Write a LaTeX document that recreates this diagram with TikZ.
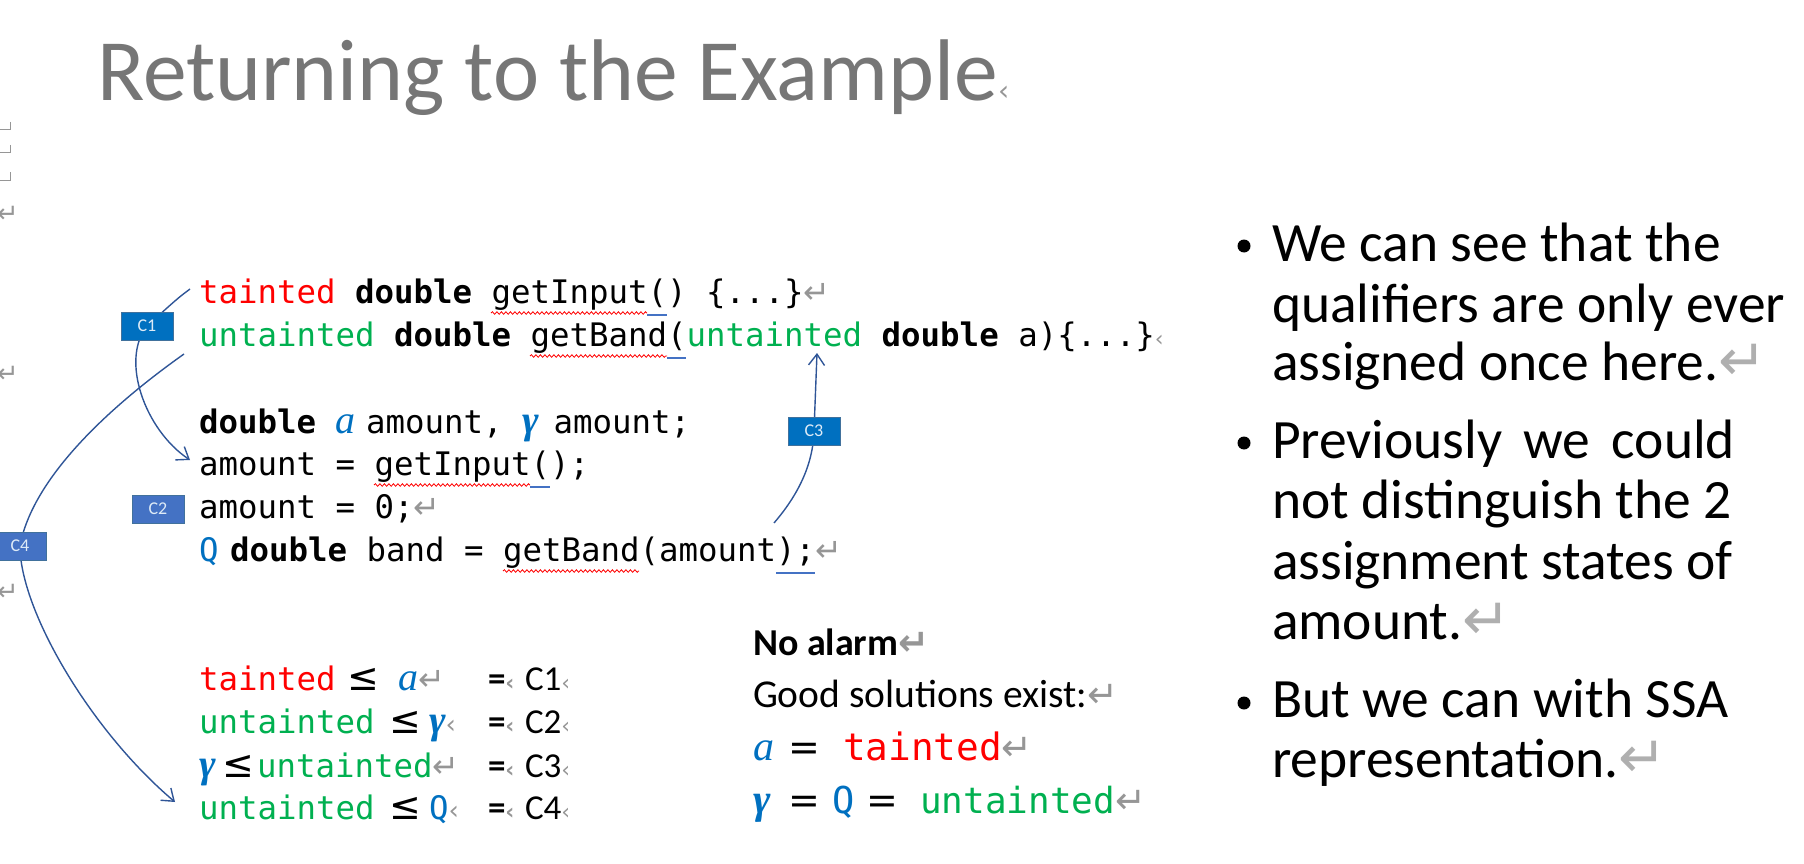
\documentclass[tikz,border=0pt]{standalone}
\usepackage{fontspec}
\usetikzlibrary{arrows.meta,decorations.pathmorphing,backgrounds}
\setmainfont{Carlito}
\newfontfamily\codefont{DejaVu Sans Mono}
\newfontfamily\symfont{DejaVu Sans}
\newfontfamily\varfont{Liberation Serif}

\definecolor{taint}{RGB}{255,0,0}
\definecolor{untaint}{RGB}{0,176,80}
\definecolor{qual}{RGB}{0,112,192}
\definecolor{fmark}{RGB}{150,150,150}
\definecolor{fmarklight}{RGB}{175,175,175}
\definecolor{wire}{RGB}{47,85,151}
\definecolor{boxA}{RGB}{0,112,192}
\definecolor{boxB}{RGB}{68,114,196}
\definecolor{boxedge}{RGB}{65,113,156}
\definecolor{boxtext}{RGB}{222,235,247}
\definecolor{titlegray}{RGB}{118,118,118}
\definecolor{gramblue}{RGB}{68,114,196}

% sizes, variables and editing marks
\newcommand\codesz{\fontsize{32.4}{40}\selectfont}
\newcommand\bulletsz{\fontsize{55.5}{60}\selectfont}
\newcommand\retmark[1][32]{\textcolor{fmark}{\symfont\fontsize{#1}{#1}\selectfont ↵}}
\newcommand\bigretmark{\textcolor{fmarklight}{\symfont\fontsize{58}{58}\selectfont ↵}}
\newcommand\cellmark[1][22]{\textcolor{fmark}{\symfont\fontsize{#1}{#1}\selectfont ‹}}
\newcommand\vara[1][40]{\textcolor{qual}{\varfont\itshape\fontsize{#1}{#1}\selectfont a}}
\newcommand\varg[1][40]{\textcolor{qual}{\varfont\bfseries\itshape\fontsize{#1}{#1}\selectfont γ}}
\newcommand\leqsym{{\symfont\fontsize{38}{38}\selectfont ≤}}
\newcommand\eqsym{{\symfont\fontsize{38}{38}\selectfont =}}

\begin{document}
\begin{tikzpicture}[x=1pt,y=-1pt,
  txt/.style={anchor=base west, inner sep=0pt, outer sep=0pt},
  cbox/.style={draw=boxedge, line width=1pt, minimum width=52pt, minimum height=28pt,
    inner sep=0pt, text=boxtext, font=\fontsize{18}{18}\selectfont},
  wirecon/.style={draw=wire, line width=1.4pt},
  tipped/.style={-{Straight Barb[length=11pt,width=16pt,line width=1.4pt]}},
  spell/.style={draw=taint, line width=0.8pt, decorate,
    decoration={snake, amplitude=1.3pt, segment length=4.5pt}},
  gram/.style={draw=gramblue, line width=1.2pt},
  edgemark/.style={draw=fmark, line width=1pt},
  dot/.style={circle, fill=black, inner sep=0pt, minimum size=13pt}]

\useasboundingbox (0,0) rectangle (1804,864);

% title
\node[txt] (title) at (97,101)
  {\fontsize{87.5}{90}\selectfont\textcolor{titlegray}{Returning to the Example}\cellmark[28]};

% formatting marks along the left edge
\draw[edgemark] (10,122) -- (10,130) -- (0,130);
\draw[edgemark] (10,145) -- (10,153) -- (0,153);
\draw[edgemark] (10,172) -- (10,180) -- (0,180);
\node[txt] (lm1) at (-3,222) {\retmark[26]};
\node[txt] (lm2) at (-3,382) {\retmark[26]};
\node[txt] (lm3) at (-3,600) {\retmark[26]};

% code listing
\node[txt] (l1) at (199,303) {\codefont\codesz\textcolor{taint}{tainted} \textbf{double} getInput() \{...\}\retmark};
\node[txt] (l2) at (199,346) {\codefont\codesz\textcolor{untaint}{untainted} \textbf{double} getBand(\textcolor{untaint}{untainted} \textbf{double} a)\{...\}\cellmark};
\node[txt] (l4) at (199,433) {\codefont\codesz\textbf{double} \makebox[30.5pt][l]{\vara}amount, \makebox[31.6pt][l]{\varg}amount;};
\node[txt] (l5) at (199,475) {\codefont\codesz amount = getInput();};
\node[txt] (l6) at (199,518) {\codefont\codesz amount = 0;\retmark};
\node[txt] (l7) at (199,561) {\codefont\codesz\makebox[31pt][l]{\textcolor{qual}{Q}}\textbf{double} band = getBand(amount);\retmark};

% proofing underlines
\draw[spell] (491,313) -- (647,313);
\draw[gram] (647,315) -- (667,315);
\draw[spell] (530,356) -- (667,356);
\draw[gram] (667,358) -- (686,358);
\draw[spell] (374,485) -- (530,485);
\draw[gram] (530,487) -- (550,487);
\draw[spell] (503,571) -- (639,571);
\draw[gram] (776,573) -- (815,573);

% constraint labels
\node[cbox, fill=boxA] (c1) at (147,326) {C1};
\node[cbox, fill=boxB] (c2) at (158,509) {C2};
\node[cbox, fill=boxA] (c3) at (814,431) {C3};
\node[cbox, fill=boxB] (c4) at (20,546) {C4};

% constraint connectors
\coordinate (s1) at (190,289);
\coordinate (t1) at (190,460);
\coordinate (s2) at (184,354);
\coordinate (t2) at (175,802);
\coordinate (s3) at (774,523);
\coordinate (t3) at (817,353);
\begin{pgfonlayer}{background}
  \draw[wirecon,tipped] (s1) .. controls (178,298) .. (c1.center)
        .. controls (120,360) and (145,430) .. (t1);
  \draw[wirecon,tipped] (s2) .. controls (105,410) and (32,480) .. (c4.center)
        .. controls (20,610) and (90,730) .. (t2);
  \draw[wirecon,tipped] (s3) .. controls (798,495) and (813,465) .. (c3.center) -- (t3);
\end{pgfonlayer}

% constraint list
\node[txt] (k1a) at (199,690) {\codefont\codesz\textcolor{taint}{tainted}};
\node[txt] (k1b) at (347,690) {\leqsym};
\node[txt] (k1c) at (398,690) {\vara\retmark};
\node[txt] (k1d) at (488,690) {\fontsize{35}{35}\selectfont\bfseries =\cellmark};
\node[txt] (k1e) at (525,690) {\fontsize{35}{35}\selectfont C1\cellmark};

\node[txt] (k2a) at (199,733) {\codefont\codesz\textcolor{untaint}{untainted}};
\node[txt] (k2b) at (389,733) {\leqsym};
\node[txt] (k2c) at (429,733) {\varg\cellmark[26]};
\node[txt] (k2d) at (488,733) {\fontsize{35}{35}\selectfont\bfseries =\cellmark};
\node[txt] (k2e) at (525,733) {\fontsize{35}{35}\selectfont C2\cellmark};

\node[txt] (k3a) at (199,777) {\varg};
\node[txt] (k3b) at (222,777) {\leqsym};
\node[txt] (k3c) at (257,777) {\codefont\codesz\textcolor{untaint}{untainted}\retmark};
\node[txt] (k3d) at (488,777) {\fontsize{35}{35}\selectfont\bfseries =\cellmark};
\node[txt] (k3e) at (525,777) {\fontsize{35}{35}\selectfont C3\cellmark};

\node[txt] (k4a) at (199,819) {\codefont\codesz\textcolor{untaint}{untainted}};
\node[txt] (k4b) at (389,819) {\leqsym};
\node[txt] (k4c) at (429,819) {\codefont\codesz\textcolor{qual}{Q}\cellmark[26]};
\node[txt] (k4d) at (488,819) {\fontsize{35}{35}\selectfont\bfseries =\cellmark};
\node[txt] (k4e) at (525,819) {\fontsize{35}{35}\selectfont C4\cellmark};

% verdict
\node[txt] (na) at (753,655) {\fontsize{38}{40}\selectfont\bfseries No alarm\retmark[37]};
\node[txt] (gs) at (753,707) {\fontsize{39.5}{40}\selectfont Good solutions exist:\retmark[37]};
\node[txt] (va) at (753,760) {\vara[42]};
\node[txt] (ve1) at (788,760) {\eqsym};
\node[txt] (vt) at (843,760) {\codefont\fontsize{37.7}{40}\selectfont\textcolor{taint}{tainted}\retmark[37]};
\node[txt] (vg) at (753,813) {\varg[42]};
\node[txt] (ve2) at (788,813) {\eqsym};
\node[txt] (vq) at (832,813) {\codefont\fontsize{37}{40}\selectfont\textcolor{qual}{Q}};
\node[txt] (ve3) at (866,813) {\eqsym};
\node[txt] (vu) at (920,813) {\codefont\fontsize{36}{40}\selectfont\textcolor{untaint}{untainted}\retmark[37]};

% bullet list
\node[dot] (d1) at (1244,246) {};
\node[dot] (d2) at (1244,443) {};
\node[dot] (d3) at (1244,703) {};
\node[txt] (p1a) at (1272,261) {\bulletsz We can see that the};
\node[txt] (p1b) at (1272,322) {\bulletsz qualifiers are only ever};
\node[txt] (p1c) at (1272,380) {\bulletsz assigned once here.\bigretmark};
\node[txt] (p2a) at (1272,458) {\bulletsz\makebox[463pt][s]{Previously we could}};
\node[txt] (p2b) at (1272,518) {\bulletsz not distinguish the 2};
\node[txt] (p2c) at (1272,579) {\bulletsz assignment states of};
\node[txt] (p2d) at (1272,639) {\bulletsz amount.\bigretmark};
\node[txt] (p3a) at (1272,717) {\bulletsz But we can with SSA};
\node[txt] (p3b) at (1272,777) {\bulletsz representation.\bigretmark};

\end{tikzpicture}
\end{document}
